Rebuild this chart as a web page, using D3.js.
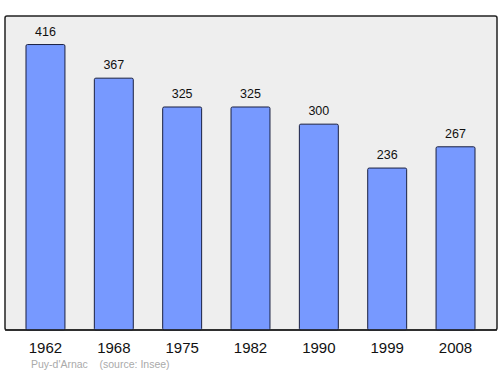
<!DOCTYPE html>
<html>
<head>
<meta charset="utf-8">
<script src="https://cdn.jsdelivr.net/npm/d3@7"></script>
<style>
  body { margin: 0; background: #fff; }
  text { font-family: "Liberation Sans", Arial, sans-serif; }
</style>
</head>
<body>
<svg id="chart" width="500" height="374"></svg>
<script>
var years = ['1962', '1968', '1975', '1982', '1990', '1999', '2008'];
var population = [416, 367, 325, 325, 300, 236, 267];

var svg = d3.select('#chart');

var frame = { left: 5, top: 16, right: 497, bottom: 330 };

// grey panel
svg.append('rect')
    .attr('x', frame.left)
    .attr('y', frame.top)
    .attr('width', frame.right - frame.left)
    .attr('height', frame.bottom - frame.top)
    .attr('rx', 2)
    .attr('fill', '#eeeeee')
    .attr('stroke', '#222')
    .attr('stroke-width', 1.5);

var x = d3.scaleBand()
    .domain(years)
    .range([11.3, 489.7])
    .paddingInner(0.43)
    .paddingOuter(0.215);

var y = d3.scaleLinear()
    .domain([0, d3.max(population) * 1.1])
    .range([frame.bottom, frame.top]);

var bars = svg.append('g');

bars.selectAll('rect')
    .data(population)
    .enter()
    .append('rect')
    .attr('x', (d, i) => x(years[i]))
    .attr('y', d => y(d))
    .attr('width', x.bandwidth())
    .attr('height', d => frame.bottom - y(d))
    .attr('rx', 1.5)
    .attr('fill', '#7799ff')
    .attr('stroke', '#1a2040')
    .attr('stroke-width', 1);

bars.selectAll('text')
    .data(population)
    .enter()
    .append('text')
    .attr('x', (d, i) => x(years[i]) + x.bandwidth() / 2)
    .attr('y', d => y(d) - 9)
    .attr('text-anchor', 'middle')
    .attr('font-size', 12.5)
    .attr('fill', '#111')
    .text(d => d);

// year labels
svg.append('g').selectAll('text')
    .data(years)
    .enter()
    .append('text')
    .attr('x', d => x(d) + x.bandwidth() / 2)
    .attr('y', 353)
    .attr('text-anchor', 'middle')
    .attr('font-size', 15)
    .attr('fill', '#111')
    .text(d => d);

// frame bottom edge over bar bottoms
svg.append('line')
    .attr('x1', frame.left)
    .attr('x2', frame.right)
    .attr('y1', frame.bottom)
    .attr('y2', frame.bottom)
    .attr('stroke', '#222')
    .attr('stroke-width', 1.5);

svg.append('text')
    .attr('x', 31)
    .attr('y', 368)
    .attr('font-size', 10.5)
    .attr('fill', '#aaa')
    .attr('xml:space', 'preserve')
    .text("Puy-d'Arnac    (source: Insee)");
</script>
</body>
</html>
